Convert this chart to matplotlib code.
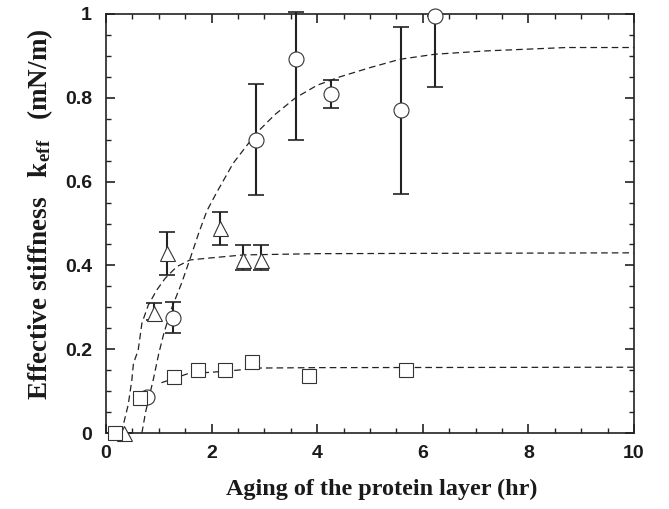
import matplotlib
matplotlib.use("Agg")
import matplotlib.pyplot as plt
from matplotlib.ticker import MultipleLocator, FixedFormatter, FixedLocator

# ---- data ----
circle_x = [0.77, 1.26, 2.85, 3.59, 4.26, 5.59, 6.23]
circle_y = [0.087, 0.274, 0.700, 0.893, 0.808, 0.771, 0.995]
circle_lo = [0.087, 0.238, 0.568, 0.700, 0.776, 0.570, 0.825]
circle_hi = [0.087, 0.313, 0.833, 1.005, 0.842, 0.970, 0.995]

tri_x = [0.35, 0.90, 1.15, 2.16, 2.60, 2.93]
tri_y = [0.0, 0.286, 0.429, 0.489, 0.413, 0.413]
tri_lo = [0.0, 0.270, 0.377, 0.449, 0.389, 0.389]
tri_hi = [0.0, 0.310, 0.480, 0.528, 0.449, 0.449]

sq_x = [0.17, 0.64, 1.29, 1.75, 2.25, 2.76, 3.84, 5.68]
sq_y = [0.0, 0.083, 0.134, 0.150, 0.150, 0.169, 0.137, 0.150]

circle_fit_x = [0.68, 0.75, 0.90, 1.00, 1.10, 1.25, 1.43, 1.59, 1.75, 1.91, 2.10, 2.41,
                2.85, 3.20, 3.59, 4.00, 4.43, 5.00, 5.57, 6.23, 7.21, 8.72, 10.0]
circle_fit_y = [0.0, 0.05, 0.13, 0.19, 0.24, 0.30, 0.357, 0.415, 0.475, 0.53, 0.575, 0.644,
                0.716, 0.76, 0.80, 0.83, 0.85, 0.872, 0.892, 0.904, 0.912, 0.92, 0.92]

tri_fit_x = [0.29, 0.42, 0.49, 0.52, 0.61, 0.68, 0.80, 0.96, 1.12, 1.34, 1.59, 1.91, 2.6, 4.0, 10.0]
tri_fit_y = [0.0, 0.067, 0.127, 0.166, 0.198, 0.262, 0.305, 0.341, 0.369, 0.397, 0.413, 0.417,
             0.425, 0.428, 0.43]

sq_fit_x = [1.05, 1.56, 2.0, 2.49, 2.9, 4.0, 10.0]
sq_fit_y = [0.12, 0.142, 0.145, 0.150, 0.155, 0.156, 0.157]

x_ticks = [0, 2, 4, 6, 8, 10]
x_tick_labels = ["0", "2", "4", "6", "8", "10"]
y_ticks = [0, 0.2, 0.4, 0.6, 0.8, 1.0]
y_tick_labels = ["0", "0.2", "0.4", "0.6", "0.8", "1"]

x_label = "Aging of the protein layer (hr)"
y_label = "Effective stiffness   k$_{\\mathbf{eff}}$   (mN/m)"

# ---- style ----
plt.rcParams['mathtext.fontset'] = 'custom'
plt.rcParams['mathtext.rm'] = 'Liberation Serif:bold'
plt.rcParams['mathtext.bf'] = 'Liberation Serif:bold'
plt.rcParams['mathtext.it'] = 'Liberation Serif:bold'

W, H = 669, 509
fig = plt.figure(figsize=(W / 100, H / 100), dpi=100)
ax = fig.add_axes([106 / W, 1 - 433 / H, (634 - 106) / W, (433 - 14) / H])

dash = (0, (5.3, 3.2))
fit_kw = dict(color='#222222', lw=0.9, ls=dash, zorder=2)
ax.plot(circle_fit_x, circle_fit_y, **fit_kw)
ax.plot(tri_fit_x, tri_fit_y, **fit_kw)
ax.plot(sq_fit_x, sq_fit_y, **fit_kw)

def errs(y, lo, hi):
    return [[a - b for a, b in zip(y, lo)], [c - a for a, c in zip(y, hi)]]

eb_kw = dict(fmt='none', ecolor='#222222', elinewidth=1.5, capsize=5.5, capthick=1.2,
             zorder=3, clip_on=False)
ax.errorbar(circle_x, circle_y, yerr=errs(circle_y, circle_lo, circle_hi), **eb_kw)
ax.errorbar(tri_x, tri_y, yerr=errs(tri_y, tri_lo, tri_hi), **eb_kw)

mk_kw = dict(ls='none', mfc='white', mec='#333333', mew=0.8, ms=10.8, zorder=4, clip_on=False)
ax.plot(circle_x, circle_y, marker='o', **mk_kw)
ax.plot(tri_x, tri_y, marker='^', **mk_kw)
ax.plot(sq_x, sq_y, marker='s', **dict(mk_kw, ms=10.5))

ax.set_xlim(0, 10)
ax.set_ylim(0, 1)
ax.xaxis.set_major_locator(FixedLocator(x_ticks))
ax.xaxis.set_major_formatter(FixedFormatter(x_tick_labels))
ax.yaxis.set_major_locator(FixedLocator(y_ticks))
ax.yaxis.set_major_formatter(FixedFormatter(y_tick_labels))
ax.xaxis.set_minor_locator(MultipleLocator(0.5))
ax.yaxis.set_minor_locator(MultipleLocator(0.05))

for s in ax.spines.values():
    s.set_linewidth(1.2)
    s.set_color('#222222')
ax.tick_params(which='both', direction='in', top=True, right=True, color='#222222')
ax.tick_params(which='major', length=6.5, width=1.2)
ax.tick_params(which='minor', length=3.5, width=1.0)
ax.tick_params(axis='y', which='major', pad=10)
ax.tick_params(axis='x', which='major', pad=9)
for lab in ax.get_xticklabels() + ax.get_yticklabels():
    lab.set_fontfamily('Liberation Sans')
    lab.set_fontweight('bold')
    lab.set_fontsize(14)
    lab.set_color('#1a1a1a')

lab_kw = dict(fontfamily='Liberation Serif', fontweight='bold', color='#1a1a1a')
fig.text(381.5 / W, 1 - 495 / H, x_label, ha='center', va='baseline', fontsize=17.4, **lab_kw)
fig.text(47 / W, 1 - 214 / H, y_label, rotation=90, rotation_mode='anchor',
         ha='center', va='baseline', fontsize=19.5, **lab_kw)

fig.savefig('out.png', dpi=100)
